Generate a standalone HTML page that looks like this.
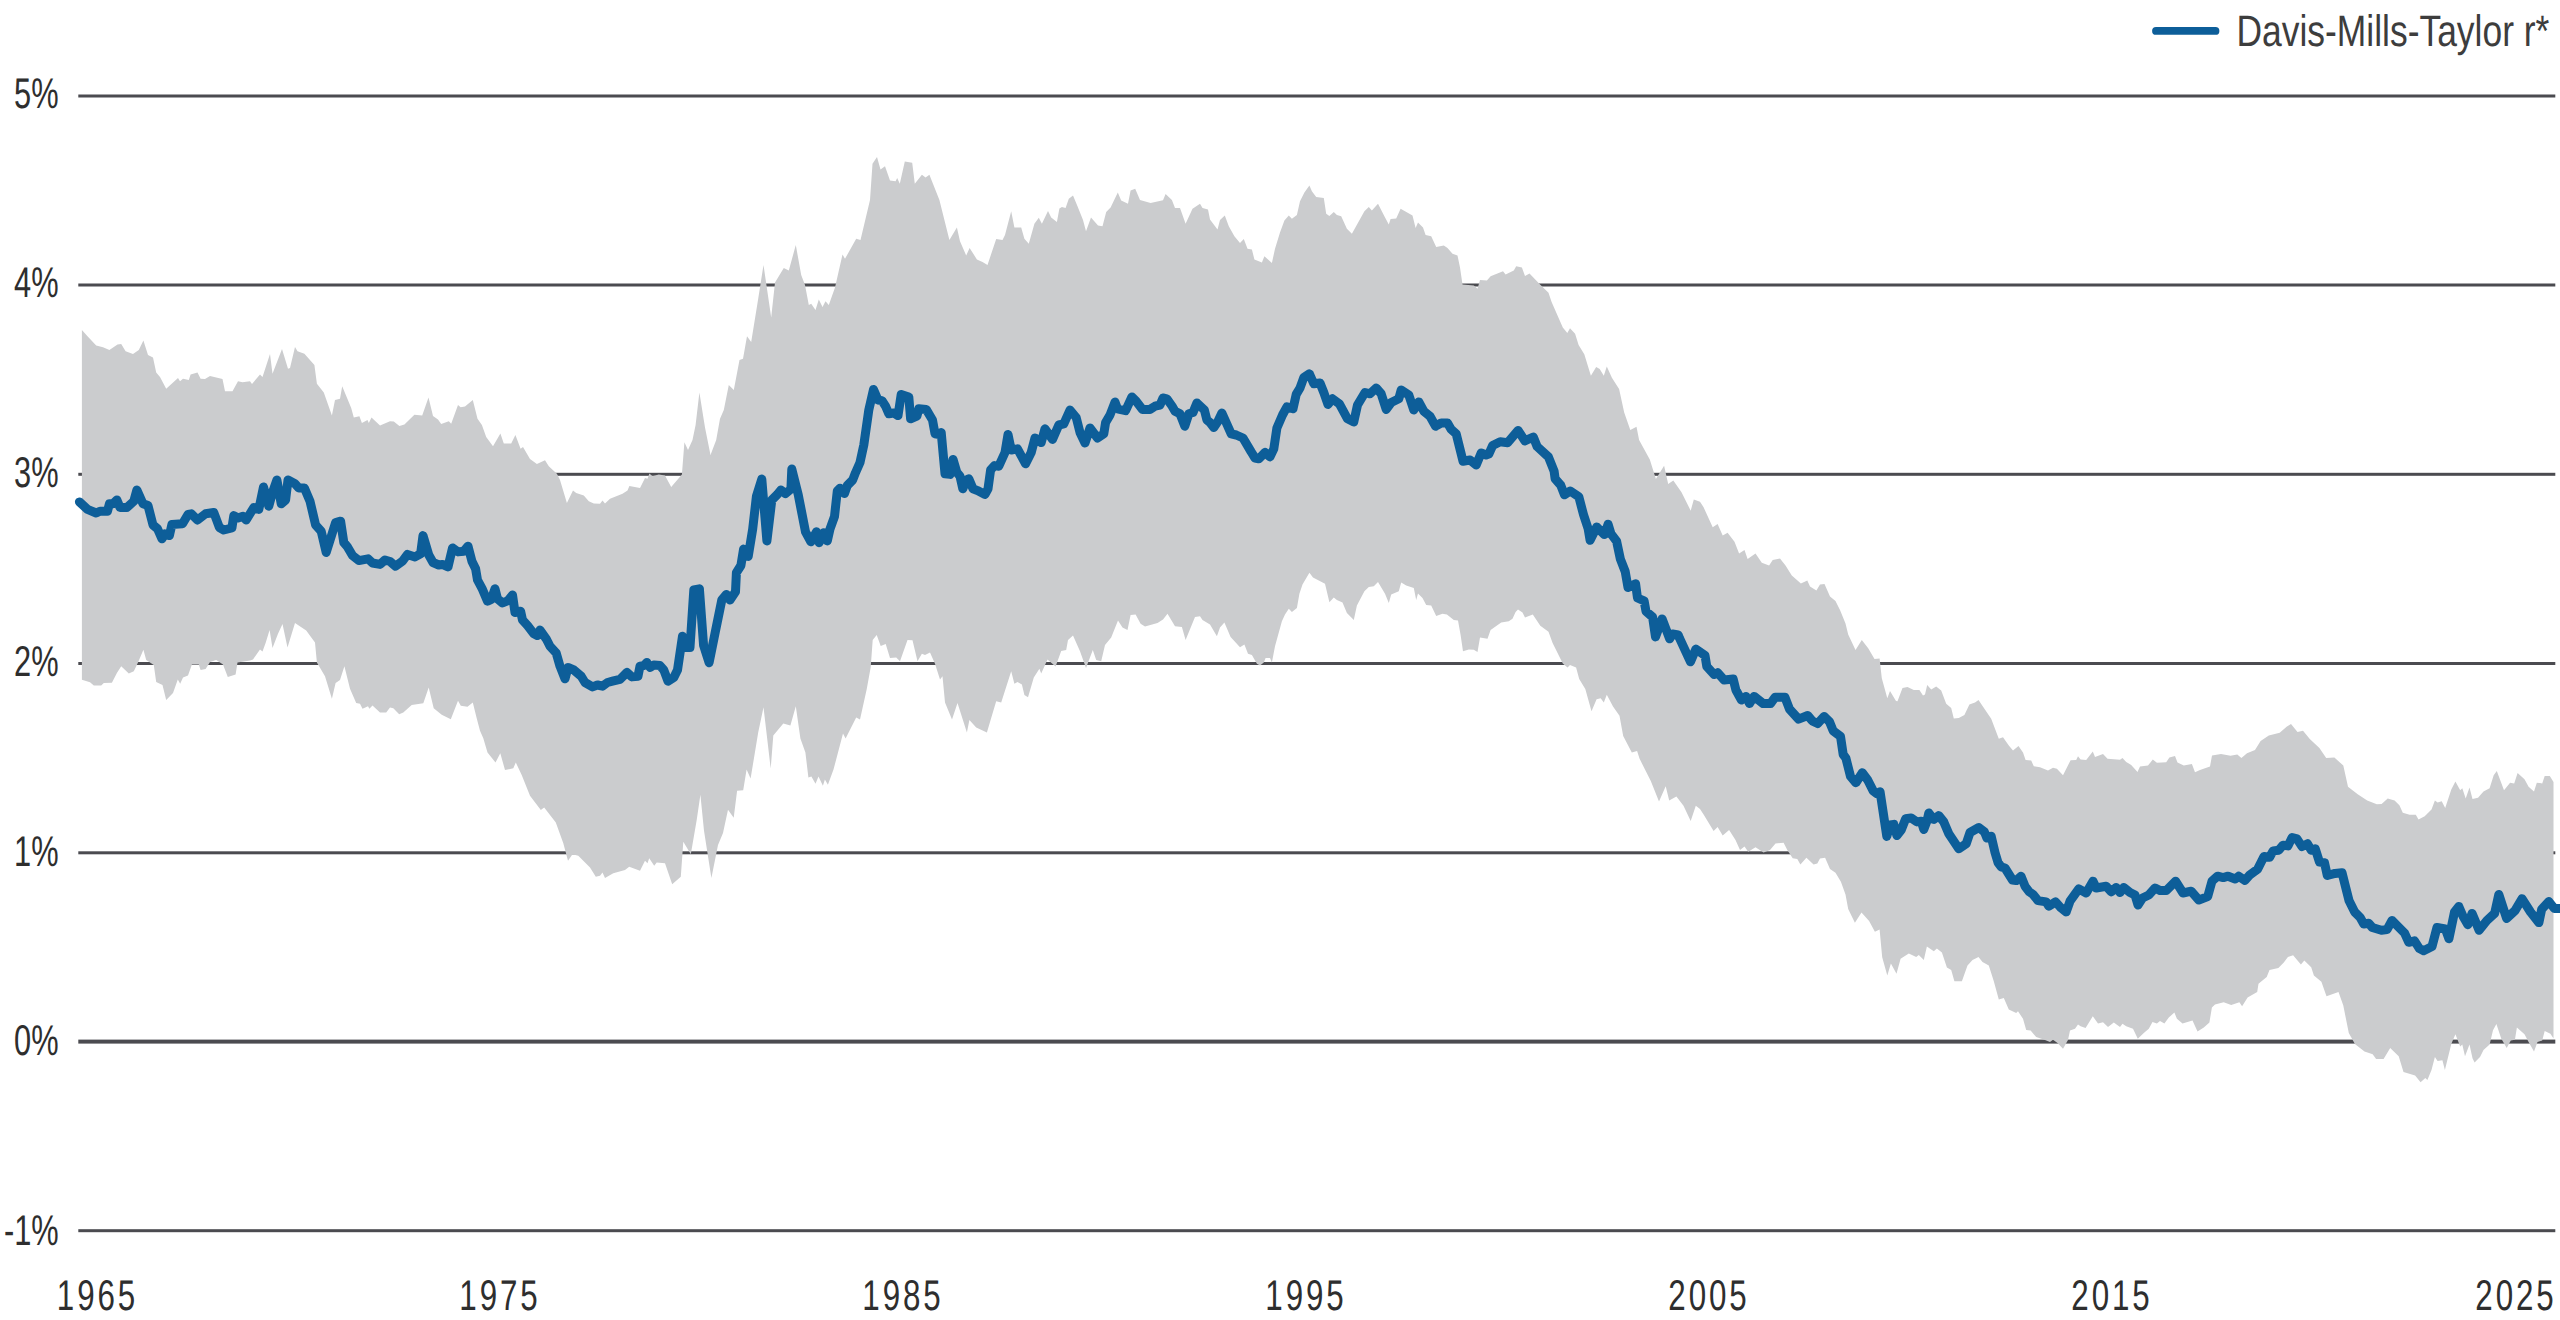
<!DOCTYPE html>
<html><head><meta charset="utf-8"><title>Davis-Mills-Taylor r*</title>
<style>
html,body{margin:0;padding:0;background:#fff;}
body{width:2560px;height:1320px;position:relative;overflow:hidden;}
svg{position:absolute;left:0;top:0;display:block;}
text{font-family:"Liberation Sans",sans-serif;font-size:43.0px;fill:#2e2e2e;text-rendering:geometricPrecision;}
text.lg{fill:#3d3d3d;}
</style></head><body>
<svg width="2560" height="1320" viewBox="0 0 2560 1320">
<rect x="78.3" y="94.5" width="2477" height="3" fill="#4b4b50"/>
<rect x="78.3" y="283.5" width="2477" height="3" fill="#4b4b50"/>
<rect x="78.3" y="472.8" width="2477" height="3" fill="#4b4b50"/>
<rect x="78.3" y="662" width="2477" height="3" fill="#4b4b50"/>
<rect x="78.3" y="851.3" width="2477" height="3" fill="#4b4b50"/>
<rect x="78.3" y="1039.6" width="2477" height="4" fill="#4b4b50"/>
<rect x="78.3" y="1229.2" width="2477" height="3" fill="#4b4b50"/>
<path d="M81.9 330 L87.5 336.2 L96.2 345.6 L103 347.2 L109.4 350 L117.5 344.4 L121.2 344 L125.6 351.2 L133 354 L138.8 350 L143.4 340.6 L148 355 L153 357.5 L156.2 372.5 L160 376.9 L166.2 388.8 L178 378 L180 381.2 L183 378.8 L188.8 380 L190.6 374.4 L197.5 372.5 L200.6 378.8 L205 379 L210 376 L222.5 379 L225 391.2 L232.5 391.2 L238 381.2 L242.5 382.2 L250 381.2 L252 384 L260 374.4 L262.5 376.9 L270 354 L272.5 373.8 L282 349 L288 368.8 L290 368 L295 346.9 L297.5 351.2 L304.4 353.8 L314.4 365 L316.9 383.8 L323.8 392.5 L331.9 415.6 L335 400 L340 398.8 L342.2 386.2 L351.2 408 L353.8 417.5 L359.4 416.2 L361.9 423 L367.5 420 L368.8 423 L371.5 417.5 L380 425.6 L390 421.2 L393.8 421.5 L399.4 426 L404.4 424.4 L414.4 414.8 L422.2 415.6 L428.5 397.5 L433 416 L438 419.4 L441.2 424 L448.8 421.2 L451.2 423.8 L458 405 L460.6 407.2 L465 406.5 L472.8 400 L477.5 418.8 L481.9 425 L486.2 436.9 L493 446.2 L500.4 433.5 L503.8 443.5 L511.2 443.5 L515.4 435 L520.6 448.8 L523 446.9 L530 459 L536.9 464 L545 460.2 L548.8 466.2 L556.9 473.8 L560 480 L566.9 503 L573 490.6 L576.2 493 L583.8 495.6 L588.8 501.2 L593.8 503.5 L600 503.8 L602.5 500.6 L605 503.5 L610 498.8 L622.5 493.8 L627.5 490.6 L629.4 486 L640 488 L645 478 L647.5 478.8 L649.4 473.5 L652.5 476.2 L658.8 474.4 L665 475.6 L671.2 487 L681.9 474.4 L684.4 442.2 L688 450 L692.5 440 L695.6 425 L699.4 392.5 L703.8 420 L705 427.5 L710.5 455 L716.2 440 L720 418.8 L723.8 410 L728.8 385 L733.8 390 L739.5 360 L743 358.8 L747 336.2 L751.2 342 L758 300 L763.5 265 L771.2 317.5 L775 282.5 L783.8 268 L788.8 270.5 L795.8 245 L801.2 275 L805 285 L808.8 305 L811.2 303.8 L815.5 310 L818.8 299.5 L822.5 307 L825.5 301.2 L828.8 305 L835 287.5 L842.5 254.5 L845 258.8 L856.2 238.8 L860.5 240 L870 200 L872.5 163.8 L877 157 L880.5 169.5 L885 166.2 L890 180.5 L895.6 181.2 L897.2 178 L899.8 183.8 L904.8 161.5 L912.2 162.8 L914.8 183.8 L921.9 174.8 L925.6 177.5 L929.4 174.8 L939.4 200 L949.4 240 L956.9 227.5 L960 241.2 L966.2 255.6 L969.6 248 L976.9 259.4 L982.5 261.9 L987.5 265 L996.2 239 L1002.5 240 L1005 235 L1011.2 211.2 L1014.4 227.5 L1021.2 227.5 L1024.4 238.8 L1028.8 243.8 L1034.4 223.8 L1038.8 217.8 L1041.9 223.8 L1048 211 L1051.2 217.5 L1056.9 221.9 L1059.4 208.5 L1061.9 206.9 L1065.6 208 L1068.8 198.8 L1073 195.6 L1077.5 206.2 L1083 220 L1086 231.2 L1091 217.5 L1098 225.6 L1102.5 226.2 L1106.2 211.9 L1110.6 207.5 L1117.8 192.5 L1121.2 200.6 L1128 203.8 L1130.6 190.6 L1135.2 188.8 L1140 200 L1150.6 203 L1163 200.2 L1165.6 194 L1171.9 200 L1175 208 L1180 208 L1185.6 223.8 L1192.5 208.8 L1200 203.8 L1202.5 208 L1208 209.4 L1210 219.4 L1217.5 229.4 L1220 220 L1224.8 215.6 L1228.8 226.2 L1234.4 236.2 L1240 243 L1243.8 239 L1247.5 248.8 L1251.9 249.4 L1254.4 259.4 L1261.9 262.5 L1264.4 256.2 L1271.9 263 L1275 248.8 L1280 232.5 L1284.4 220.6 L1288.8 215.6 L1291.9 218.8 L1296.9 215 L1300 201.2 L1304.4 192.5 L1309.4 185.6 L1311.9 191.2 L1316.2 196.9 L1323.8 198 L1326.2 213.8 L1329.4 216 L1333.8 211.9 L1336.9 215 L1341.2 216.2 L1346.9 228.8 L1351.9 233.8 L1364.4 211.2 L1368.8 206.9 L1371.9 210.6 L1378 203.8 L1384.4 216.2 L1388.8 224.4 L1390.6 219 L1396.2 218.5 L1400.6 208.8 L1412.5 215.6 L1415.6 228 L1418 222.5 L1423 227.5 L1425.6 235 L1431.2 236.2 L1436.2 246.9 L1443.8 245.6 L1447.5 248 L1452.5 253.8 L1457.5 255.6 L1460 267.5 L1462.5 284.4 L1473.8 285.6 L1477.5 288.8 L1480 280 L1486.9 280.6 L1490.6 276.2 L1503 271.2 L1505.6 274.4 L1513.8 270.6 L1516.2 266.2 L1521.9 267.5 L1525 276 L1529.5 273.4 L1540.3 284.7 L1548.5 292.8 L1551.6 302 L1562.8 327.6 L1567.3 333.1 L1570 328.2 L1575.1 333.8 L1578.6 345 L1584.3 354.2 L1590.9 375.7 L1596.2 367.1 L1599.7 369.1 L1603.8 375.7 L1606.8 366.5 L1611.9 377.7 L1619.1 389 L1624.2 412.5 L1630.3 429.9 L1636.5 426.8 L1639.1 440.1 L1649.8 459.5 L1655.9 479 L1664.1 465.7 L1668.2 484.1 L1673.3 480.6 L1681.5 492.3 L1690.7 510.7 L1693.8 499.4 L1700 501.8 L1703.6 507.3 L1712.7 527.3 L1717.6 524 L1722.7 535.5 L1727.6 532.7 L1734.5 541.8 L1739.1 553.6 L1744.5 550 L1747.6 559.1 L1755.5 553.6 L1761.8 562.7 L1769.1 565.5 L1772.7 560 L1780 558.5 L1785.5 565.5 L1791.8 575.5 L1800.9 583.6 L1807.3 580.4 L1810 586.4 L1816.4 590.5 L1820 584.5 L1824.5 584 L1830 596.4 L1835.5 600.9 L1840 610 L1845.5 623.6 L1848.2 634.5 L1855.5 650 L1861.8 640 L1868.2 648.2 L1874.5 659.1 L1879.6 658.5 L1881.8 678.2 L1887.3 698.2 L1890 690.9 L1896 700.9 L1897.5 701.2 L1902.5 688 L1907.5 686.9 L1913.8 690 L1919.4 690 L1923 695.6 L1925 694.4 L1927.2 685 L1931.2 689.4 L1936.2 686.5 L1941.2 690.6 L1946.2 703.8 L1951.2 708 L1953.8 718.5 L1958.8 718 L1964.4 715 L1969.4 704.4 L1975 702.5 L1978.5 700 L1991.2 718.8 L1998.8 738.8 L2003 737.2 L2008.8 745.6 L2013 750.6 L2018.5 746 L2023 752.5 L2025.6 760 L2031.2 760.6 L2033.8 766.2 L2040 767.2 L2048 770.6 L2053 767.8 L2056.9 768.8 L2063 775.2 L2070.6 760.2 L2076.2 760 L2078 756.2 L2080.6 759.4 L2086.2 760 L2092.8 751.5 L2095 756.9 L2103 754 L2107.5 758.8 L2120 759.8 L2122.5 758 L2126.2 761.9 L2131.2 765 L2137.5 771.9 L2140 766.5 L2148 765.6 L2152.8 759.4 L2156.9 762.8 L2166.2 762.2 L2169.4 757.5 L2175 756 L2177.5 762.5 L2183.8 765.6 L2191.9 764 L2195 772.2 L2200 770 L2210 766.5 L2212 755.4 L2221 754 L2230.5 755.8 L2237.3 754.4 L2241.4 758.1 L2247 753.3 L2255 750 L2260.6 741 L2268.8 735.5 L2279.7 732.8 L2286.6 726.7 L2291 724 L2297.5 732 L2303 730.8 L2309.8 739 L2319.4 747.9 L2326.2 758.1 L2334.4 757.4 L2343.3 765.6 L2348 786.8 L2357.7 794.3 L2367.2 800.5 L2376.8 804.2 L2381.6 804 L2387.7 798.4 L2394.6 800.5 L2399.4 805.3 L2402.8 812.8 L2409.6 814.8 L2415.8 814.8 L2418.5 819.6 L2424.7 816.2 L2431.5 809.4 L2434.9 800.5 L2437.6 802.5 L2441.7 801.2 L2445.2 808 L2451.3 789.6 L2455.4 781.4 L2460.2 790.2 L2462.3 788.2 L2465.7 798.4 L2469.5 787.5 L2472.5 799.1 L2478 797.8 L2483.5 791.6 L2489.6 788.2 L2493.7 775.2 L2496.8 771.1 L2504 790.2 L2510.1 782.7 L2514.2 783.4 L2517.6 773.1 L2524.5 779.3 L2528.6 786.8 L2534 791.6 L2536.8 782.7 L2542.2 783.4 L2544.7 775.9 L2549.8 775.9 L2553.5 782 L2553.5 1038.4 L2550.4 1033.7 L2544.7 1030.9 L2542.2 1040.5 L2537.5 1041.9 L2534 1051.4 L2528.6 1041.9 L2524.5 1034.3 L2516.9 1027.5 L2514.9 1039.8 L2510.8 1040.5 L2506.7 1048 L2501.2 1038.4 L2496.4 1024.1 L2493 1030.2 L2489.6 1044.6 L2483.5 1050.1 L2480 1056.9 L2474.6 1062.4 L2472.5 1058.3 L2469.5 1044.6 L2465 1056.2 L2462.3 1044.6 L2460.2 1046.6 L2455.4 1034.3 L2451.3 1043.9 L2444.9 1069.9 L2442.4 1060.3 L2437.6 1061 L2434.9 1056.9 L2431.5 1069.9 L2427.4 1080.1 L2425.3 1078.1 L2420.6 1082.2 L2415.1 1075.4 L2403.5 1071.9 L2398.7 1056.2 L2390.2 1048 L2383.6 1059 L2376.1 1059 L2372.7 1054.2 L2364.5 1051.4 L2354.9 1043.9 L2348.8 1033 L2343.3 1005.6 L2338.5 992 L2326.5 996.3 L2321.4 981.7 L2313.9 975.5 L2311.2 967.3 L2304.3 960.5 L2300.9 964.6 L2293.1 955.3 L2287.9 957.1 L2283.8 962.6 L2278.4 968 L2269.5 970.1 L2266.7 976.9 L2258.5 983.8 L2257.2 992 L2247.6 997.4 L2242.1 1006.3 L2239.4 1002.2 L2231.2 1004.9 L2223.7 1002.2 L2215 1004.6 L2211.9 1007.5 L2209.4 1022.5 L2203.8 1027.5 L2197.5 1031.5 L2192.5 1020.6 L2182.5 1023.5 L2176.9 1018.8 L2174.4 1012.5 L2168.8 1017.5 L2164.4 1023.5 L2160 1021 L2156.9 1023.5 L2152.5 1021.9 L2148.8 1028.8 L2143.8 1033 L2137.8 1038.8 L2133 1028.8 L2126.2 1026.2 L2122.5 1023.8 L2120 1026.9 L2113.8 1022.5 L2108 1026.9 L2103 1022.2 L2098 1023.5 L2092.8 1016.2 L2085.6 1028 L2080.6 1026.2 L2078 1024.4 L2075 1028.8 L2070 1030.6 L2068 1040 L2063 1048.8 L2057.5 1043 L2053 1039.8 L2050 1041.9 L2045 1040 L2036.2 1036.9 L2030.6 1030.6 L2026.2 1030 L2023 1018.8 L2018 1011.2 L2016.2 1013 L2008.8 1009.4 L2003.8 998 L1998.8 999.4 L1993.8 981.2 L1988.8 965.6 L1982.5 961.9 L1978.5 956.9 L1972.5 960 L1967.5 965.6 L1961.9 981.2 L1954.4 981.2 L1951.2 970 L1946.9 967.5 L1941.9 952.5 L1936.9 948.5 L1933.8 951.2 L1926.9 946.5 L1923.8 960 L1918.8 955 L1916.2 956.9 L1908.8 953.5 L1900.6 958.8 L1896.5 973.8 L1890.9 963.6 L1887.3 975.5 L1882.2 957.3 L1879.6 929.5 L1874.9 931.8 L1869.1 920.9 L1861.5 912.4 L1854.9 922.7 L1848.2 909.1 L1845.5 894.5 L1840.9 881.8 L1835.5 872.7 L1830 869.1 L1825.1 857.8 L1820 858.5 L1817.3 863.6 L1813.6 864.5 L1806.4 857.8 L1800.4 864.5 L1797.3 859.1 L1792.7 858.2 L1787.3 850 L1783.6 842.7 L1775.5 843.6 L1770 850 L1763.6 852.4 L1755.5 847.3 L1748.2 851.8 L1744.5 846.4 L1740 850 L1735.5 840 L1729.1 830 L1722.7 835.5 L1717.6 826.9 L1713.6 830.9 L1703.6 814.5 L1700 809.1 L1695.8 805.7 L1690.7 821 L1683.5 805.7 L1676.4 796.5 L1669.2 800.6 L1665.7 786.2 L1659 801.6 L1650.8 781.1 L1639.5 758.6 L1637.1 750.9 L1631.8 752.5 L1623.2 736.1 L1619.5 715.7 L1613 706.5 L1606.8 694.8 L1603.8 702.4 L1600.7 698.3 L1596.6 699.3 L1591.5 711.2 L1585.3 689.1 L1579.2 678.9 L1576.1 667.6 L1570 665 L1567.5 667.6 L1562.8 663.5 L1552.6 643.1 L1548.5 631.8 L1540.3 625.7 L1532.8 614.4 L1525 617.5 L1522.5 612.5 L1518 609.4 L1515.6 611.9 L1512.5 618.8 L1508.8 621.2 L1501.2 622.5 L1490.6 630 L1487.5 638.8 L1480 637.5 L1477.5 651.9 L1473.8 649.8 L1468.8 649.4 L1463 651.2 L1460.6 635 L1458 620.6 L1453.8 620 L1446.9 614.4 L1442.5 613.8 L1436.2 616 L1431.2 605.6 L1426.2 605 L1422.5 598 L1418 593.5 L1416.2 600 L1413.8 588 L1406.2 585.6 L1401.2 582.5 L1398.8 591.2 L1391.2 594.4 L1388.8 603 L1385 593.8 L1378 581.9 L1373.8 586.2 L1368.8 586.9 L1364.4 591.2 L1356.9 605.6 L1353.8 620 L1346.9 613 L1342.5 602.5 L1336.9 600 L1333.8 597.5 L1329.4 602.2 L1325 583.8 L1313 577.5 L1309.4 572.8 L1302.5 584.4 L1299.4 593.8 L1296.9 608 L1291.9 611.9 L1288.8 608.8 L1285 614.4 L1281.9 621.2 L1275 646.2 L1271.9 662.5 L1270 658 L1265.6 658 L1263.8 662.5 L1260 665.6 L1256.9 663.8 L1251.9 655 L1248 653.8 L1244.4 644.4 L1240 647.2 L1230.6 636.9 L1224.4 622.5 L1220 627.5 L1216.9 636.2 L1210 624.5 L1202.5 620 L1200 616.2 L1195 616.9 L1185.6 640 L1181.9 626.9 L1175 626.2 L1167.5 613.8 L1163 619.4 L1157.5 623 L1145 626.5 L1140.6 623.8 L1135.6 614.4 L1130.6 615 L1127.5 630 L1122.5 627.5 L1118 620.6 L1111.2 637.5 L1105 645 L1101.2 661.2 L1096.2 660 L1092.8 650 L1086 668 L1080 651.2 L1073 635.6 L1068 640 L1066.2 650 L1061.2 651 L1055.6 666.5 L1047.5 659.4 L1041.2 673.5 L1039.4 668.8 L1033.8 677.5 L1028 697.2 L1024.4 695 L1021.9 684.4 L1017.5 681.9 L1014.4 683.8 L1011.2 671.2 L1001.2 702.5 L996.2 701.2 L990.6 720 L986.9 732.5 L976.2 727.5 L969.4 720 L966.9 732.5 L957.5 703 L952 719.4 L945 702.5 L942.5 676.2 L940 679.4 L935 663.8 L930 652.5 L925 655 L921.9 653.8 L917.5 661.2 L912.5 640.2 L907.5 640 L900 661.2 L896.2 657.5 L890 658.1 L885.7 644.1 L880.7 646.1 L876.7 635.1 L872.7 640.1 L870.7 667.2 L866.7 689.3 L860 719.4 L856.2 717.4 L845.6 738.5 L843 733.5 L833.5 769.6 L827.9 784.7 L824.9 779.6 L822.9 785.7 L818.5 776.6 L815.5 783.7 L811.4 776.6 L808.4 777.6 L805.4 752.5 L800.4 738.5 L795.8 706.3 L790.4 725.4 L783.3 723.4 L773.3 735.5 L770.7 768.6 L763.5 707.3 L758.2 732.4 L750.6 778.6 L746.6 769.6 L743.2 790.3 L737.1 790.7 L733.7 817.8 L728 809.8 L723 832.9 L718 844.9 L711.4 878 L704 830.8 L700.4 794.8 L696.7 820 L690.8 854.2 L683.3 841.7 L680.8 876.7 L672.2 884.2 L665 863.3 L656.7 862.5 L654.2 865.8 L649.2 858.3 L647.5 863.3 L645 860.8 L640 870.8 L629.2 866.7 L625 870 L613.3 873.3 L605 878 L602.5 872.5 L600 875.8 L595.8 876.7 L590 867.5 L578.3 855.8 L572.5 854.2 L568 860.8 L563.3 843.3 L555.8 822.5 L544.2 807.5 L540.8 810 L530 795.8 L521.7 775 L515.8 762.5 L513.3 768.3 L505 770 L500.3 753.3 L495.5 762.5 L487.5 752.5 L483.3 738.3 L480 730.8 L476.7 718.3 L472.8 702.5 L467.5 706.7 L460.8 705.8 L458 700.8 L450.8 719.2 L441.7 714.7 L433.7 708.3 L428.7 687.5 L423.3 703.3 L411.7 705 L403.3 712.5 L399.2 714.2 L393.3 708.3 L390 707.5 L386.2 712.5 L380 712.5 L372.5 705.6 L369.4 708.8 L368 706.2 L362.5 708.8 L360 703.8 L356.2 703 L350 688.8 L344.4 666.2 L340 680 L335.6 683 L331.9 698.8 L325 676.2 L316.9 662.5 L315 642.5 L306.2 630.6 L295 623 L287.5 647.5 L282.5 624 L278 633.8 L272.5 648 L269.6 630 L265.6 643 L262.5 651.5 L260 649.4 L253 659.4 L250 660.6 L237.5 662.5 L235.6 674.4 L227.8 676.9 L223 664.4 L216.2 660 L210 661.9 L205.6 669 L200.6 670 L198.8 664.4 L191.9 664.4 L188 675.6 L183 677.5 L180.2 683.8 L177.8 679.4 L173 693 L166.2 700 L162.5 685 L156.2 681.9 L153.8 665 L146.2 660 L143.4 649.8 L138 662.5 L133.8 671.2 L128.8 673.5 L121.2 666.2 L116.9 673 L111.9 682.8 L103.8 683 L101.2 685.6 L93.8 685.6 L90 682.2 L81.9 679.8 Z" fill="#cbccce"/>
<path d="M79.4 501.9 L87.5 509.4 L96.2 513 L100 511.2 L107.5 511.2 L109.4 503.8 L113 503.8 L116.9 500 L120 507.5 L126.9 507.5 L133.8 501.2 L136.9 490 L143 503.8 L148 505.6 L153 525 L157.5 528.8 L161.9 538.8 L165 533.8 L169.4 535.6 L171.9 524.4 L182.5 523.8 L188 514.4 L191.2 513.8 L197.5 520 L205.6 513.8 L213.8 512.5 L219.4 527.5 L223.8 530 L231.9 528 L233.8 515.6 L238 518 L243 516.2 L246.2 520 L253.8 507.5 L258.8 509.4 L263.5 486.9 L268.8 506.2 L272.5 492.5 L276.9 480 L281.2 503.8 L285.6 500 L288 480 L295 483.8 L298.8 488 L304.4 488 L310 501.2 L315.6 525 L321.2 531.2 L326.2 552.5 L335.6 522.5 L340.6 521.2 L343.8 542.5 L347.5 546.9 L352.5 555.6 L358.8 560.6 L368 558.8 L372.5 563 L380 564.4 L385 560 L390 561.5 L395.6 566.2 L402.5 561.2 L407.5 554.4 L415 556.9 L420.6 553.8 L423 535.6 L428.8 555 L433 562.5 L438.8 565 L442.5 564.4 L448 566.9 L452.5 548 L458 551.9 L463.8 551.2 L468 546.2 L471.9 561.2 L475.6 568.8 L477.5 580 L482.5 589.4 L487.5 601.2 L491.2 599.4 L495 588.8 L497.5 598.8 L502.5 603 L508 600.6 L512.5 595 L515 612.5 L520.6 611.2 L522.5 620 L527.5 625.6 L533.8 633.8 L537.5 635.6 L540 630 L546.2 638.8 L550 646.2 L556.2 653 L560 666.2 L565 678.8 L568 667.5 L573.8 670 L581.2 676.2 L585 682.5 L592.5 686.9 L597.5 685 L602.5 686.2 L607.5 682.5 L612.5 681.2 L620 679.4 L626.9 672.5 L631.9 676.9 L638 676.2 L640 666.2 L643.8 665.6 L646.9 662.5 L650 667.5 L653.8 665 L660 665.6 L663.8 670 L668 681.2 L673.8 677.5 L677.5 670 L682.5 636.2 L686.2 647.5 L690 647.5 L693.8 590 L699.4 588.8 L703.6 645.5 L709.1 662.7 L715.5 630.9 L721.8 600 L726.4 594.5 L730 600 L735.5 591.8 L736.4 572.7 L740.9 565.5 L743.6 549.1 L748.2 556.4 L752.7 529.1 L756.4 496.4 L761.8 479.1 L766.9 540.9 L771.8 500 L777.3 494.5 L780.9 490 L785.5 493.6 L790.9 489.1 L791.8 469.1 L798.2 494.5 L805.5 531.8 L810.9 541.8 L816.4 531.8 L819.1 542.7 L823.6 532.7 L827.3 540.9 L830 529.1 L834.5 516.4 L837.3 490.9 L840 488.2 L844.5 493.6 L847.3 485.5 L852.7 480 L855.5 472.7 L860 462.5 L863.8 445 L868.8 410 L873.5 389.4 L878 400 L881.9 400.6 L885.6 406.2 L888.8 413.8 L893.8 413 L898 415.6 L901.2 394.4 L908.8 396.9 L910.6 418.8 L916.9 416.2 L918.8 408.8 L926.2 409.4 L932.5 420 L935 433.8 L938 434.4 L941.2 432.5 L945 473.8 L950 474.4 L953 459.4 L956.9 472.5 L960 476.2 L962.8 488.8 L966.2 480 L968.8 478.8 L973 488.8 L977.5 490.6 L985 494.4 L988 488.8 L990.6 470 L994.4 465.6 L998.8 466.2 L1005 452.5 L1008 434.4 L1011.2 450 L1017.5 448.8 L1025.6 463.8 L1031.2 452.5 L1035 438 L1041.2 442.5 L1045 428.8 L1052.5 439.4 L1058.8 425 L1063.8 423.8 L1070 410 L1076.2 417.5 L1080 432.5 L1085 443 L1090 428 L1097.5 438 L1103.8 433.8 L1105.6 422.5 L1110 415 L1115 402 L1117.5 408.8 L1125.6 410.6 L1131.9 396.9 L1136.2 401.2 L1142.5 409.4 L1150 409.4 L1155 406.2 L1160 405 L1163 398 L1166.9 398.8 L1172 406 L1175 411.2 L1180 413.8 L1184.8 426.2 L1188.8 413.8 L1193 412.5 L1196.9 403 L1204.4 410 L1206.9 420 L1210 422.5 L1213.8 427.5 L1218 421.2 L1221.9 413 L1231.2 433.8 L1236.2 435 L1243 438 L1251.2 451.9 L1255 458 L1258.8 458.8 L1265 452.5 L1270 456.9 L1273.8 448.8 L1276.9 428 L1282.5 415 L1286.9 406.9 L1293 408.8 L1296.2 394.4 L1300 388 L1303.8 377.5 L1309.4 373.8 L1313.8 383.8 L1320 383 L1323.8 392.5 L1328 404.4 L1332.5 398.8 L1339.4 403.8 L1347.5 418.8 L1353.8 421.9 L1357.5 405 L1365 392.5 L1370 393.8 L1376.2 388 L1381.2 393.8 L1386.2 409.4 L1391.2 402.5 L1398.8 398.8 L1401.2 390 L1408.8 395 L1413.8 410 L1418.8 401.9 L1423.8 411.2 L1430 416.2 L1435.6 426.2 L1441.2 423 L1447.5 423 L1451.2 429.4 L1456.2 433.8 L1463 461.2 L1470 460 L1476.2 465 L1481.2 453 L1486.2 455 L1488.8 454.1 L1492.6 445.6 L1500.2 441.8 L1507.7 442.7 L1518.1 430.4 L1524.8 440.8 L1533.3 437 L1537.1 446.5 L1548.4 456.9 L1554.1 471.1 L1555.1 478.7 L1560.8 485.3 L1564.5 494.8 L1570.2 491 L1578.8 496.7 L1583.5 514.7 L1588.2 528.9 L1590.1 540.3 L1596.7 527 L1604.3 534.6 L1608.1 524.2 L1610.9 533.6 L1616.6 541.2 L1620.4 559.2 L1625.2 571.5 L1628 587.6 L1635.6 583.8 L1637.5 598 L1644.1 600.9 L1646 611.3 L1652.6 617 L1655.5 636.9 L1662.1 618.9 L1669.7 638.8 L1672.5 634 L1678.2 635 L1679.5 638.2 L1690.5 661.8 L1695.9 649.1 L1705 655.5 L1706.8 666.4 L1714.1 674.5 L1717.7 672.7 L1724.1 680 L1733.2 679.1 L1735.9 690 L1741.4 700 L1745.9 696.4 L1749.5 703.6 L1754.1 696.4 L1763.2 703.6 L1770.5 703.6 L1775 697.3 L1785 697.3 L1789.5 709.1 L1798.6 719.1 L1807.7 715.5 L1812.3 720.9 L1817.7 723.6 L1824.1 716.4 L1829.5 721.8 L1833.2 730.9 L1840.5 736.4 L1843.2 754.5 L1845.9 758.2 L1850.5 776.4 L1855.9 782.7 L1862.3 772.7 L1867.7 780 L1873.2 790.9 L1876.8 793.6 L1880.1 791.8 L1886.8 836.4 L1890 825 L1893.8 824.4 L1896.9 835.6 L1901.2 830 L1905.6 818.8 L1911.2 818 L1916.9 821.9 L1921.2 821.2 L1923.8 829.4 L1926.9 821.2 L1928.8 813 L1933.8 819.4 L1938.8 815.6 L1943.8 821.9 L1948.8 833.8 L1953.8 841.2 L1958.8 848.8 L1966.2 843.8 L1970 832.5 L1978.8 827.5 L1984.4 831.9 L1986.9 838 L1991.2 836.2 L1995 852.5 L1998 862.5 L2001.2 866.9 L2005 868 L2012.5 880 L2016.2 880.6 L2021 876.2 L2025 886.2 L2029.4 891.9 L2033 894.4 L2038 900.6 L2046.2 901.9 L2048.8 906.2 L2055.6 901.9 L2060 906.9 L2066.2 911.9 L2070 901.2 L2078.8 888.8 L2086.2 893 L2093 881.2 L2096.2 888 L2106.2 886.2 L2111.2 891.9 L2116.2 887.5 L2120 892.5 L2123.8 887.5 L2130 892.5 L2135 895 L2138 905 L2142.5 898 L2148.8 895 L2155 888 L2160 890.6 L2166.2 890.6 L2175.6 881.2 L2183 893 L2191.2 891.2 L2198.8 900 L2207.7 896.6 L2212 881.1 L2217.6 876.2 L2223.2 877.6 L2228.1 876.2 L2235.2 879 L2238.7 876.2 L2245 880.4 L2249.9 874.8 L2257.7 869.1 L2264 856.5 L2269.6 857.2 L2273.1 850.9 L2278.8 850.2 L2283 845.2 L2287.9 845.9 L2292.1 837.5 L2297 838.9 L2302 846.6 L2307.6 843.8 L2311.1 850.2 L2315.3 848.8 L2319.5 862.1 L2324.5 862.8 L2327.3 875.5 L2335 873.4 L2342 872.7 L2345.5 886.7 L2349.1 900.8 L2354.7 912 L2360.3 917.7 L2363.8 924 L2368.8 923.3 L2372.3 927.5 L2381.4 930.3 L2387 929.6 L2392 920.5 L2396.9 925.4 L2404.6 933.1 L2408.8 942.3 L2414.5 940.9 L2419.4 948.6 L2423.6 950.7 L2432 946.5 L2437 927.5 L2445.4 928.9 L2448.9 938.8 L2454.5 912 L2458.8 906.4 L2463 916.2 L2467.9 924.7 L2472.1 913.4 L2479.1 930.3 L2486.9 920.5 L2494.6 913.4 L2498.8 894.5 L2506.6 918.4 L2515 910.6 L2522 898.7 L2530.5 912 L2538.9 922.6 L2541.7 909.2 L2548.8 901.5 L2554.4 908.5 L2564 908.5" fill="none" stroke="#0d5e99" stroke-width="9" stroke-linejoin="round" stroke-linecap="round"/>
<line x1="2156" y1="30.9" x2="2215.5" y2="30.9" stroke="#0d5e99" stroke-width="7.8" stroke-linecap="round"/>
<text transform="translate(58.6,108.00) scale(0.7156,1)" text-anchor="end">5%</text>
<text transform="translate(58.6,297.45) scale(0.7156,1)" text-anchor="end">4%</text>
<text transform="translate(58.6,486.90) scale(0.7156,1)" text-anchor="end">3%</text>
<text transform="translate(58.6,676.35) scale(0.7156,1)" text-anchor="end">2%</text>
<text transform="translate(58.6,865.80) scale(0.7156,1)" text-anchor="end">1%</text>
<text transform="translate(58.6,1055.25) scale(0.7156,1)" text-anchor="end">0%</text>
<text transform="translate(58.6,1244.70) scale(0.7156,1)" text-anchor="end">-1%</text>
<text transform="translate(97.5,1310.1) scale(0.7284,1)" text-anchor="middle" letter-spacing="4.0">1965</text>
<text transform="translate(500,1310.1) scale(0.7284,1)" text-anchor="middle" letter-spacing="4.0">1975</text>
<text transform="translate(903,1310.1) scale(0.7284,1)" text-anchor="middle" letter-spacing="4.0">1985</text>
<text transform="translate(1306,1310.1) scale(0.7284,1)" text-anchor="middle" letter-spacing="4.0">1995</text>
<text transform="translate(1709,1310.1) scale(0.7284,1)" text-anchor="middle" letter-spacing="4.0">2005</text>
<text transform="translate(2112,1310.1) scale(0.7284,1)" text-anchor="middle" letter-spacing="4.0">2015</text>
<text transform="translate(2516,1310.1) scale(0.7284,1)" text-anchor="middle" letter-spacing="4.0">2025</text>
<text class="lg" transform="translate(2236.4,45.9) scale(0.824,1.025)">Davis-Mills-Taylor r*</text>
</svg>
</body></html>
